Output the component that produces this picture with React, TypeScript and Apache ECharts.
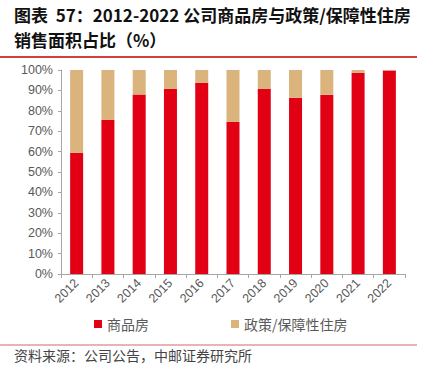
import React, { useEffect, useRef } from "react";
import * as echarts from "echarts";

const years = ["2012", "2013", "2014", "2015", "2016", "2017", "2018", "2019", "2020", "2021", "2022"];
const commercial = [59.4, 75.5, 88.0, 90.7, 93.7, 74.5, 90.7, 86.4, 87.8, 98.7, 99.8];
const affordable = [40.6, 24.5, 12.0, 9.3, 6.3, 25.5, 9.3, 13.6, 12.2, 1.3, 0.2];
const seriesNames = ["商品房", "政策/保障性住房"];
const titleLine1 = "图表  57：2012-2022 公司商品房与政策/保障性住房";
const titleLine2 = "销售面积占比（%）";
const sourceText = "资料来源：公司公告，中邮证券研究所";

export default function App() {
  const ref = useRef<HTMLDivElement>(null);
  useEffect(() => {
    if (!ref.current) return;
    const chart = echarts.init(ref.current, null, { renderer: "svg" });
    const font = "'Noto Sans CJK SC', 'Noto Sans', sans-serif";
    const latin = "'Liberation Sans', Arial, sans-serif";
    chart.setOption({
      animation: false,
      textStyle: { fontFamily: font },
      grid: { left: 61, right: 19, top: 70, bottom: 91, containLabel: false },
      legend: {
        data: seriesNames,
        left: 94,
        top: 317,
        padding: 0,
        icon: "rect",
        itemWidth: 8,
        itemHeight: 8,
        itemGap: 82,
        textStyle: { fontSize: 14, color: "#595959", fontFamily: font },
      },
      xAxis: {
        type: "category",
        data: years,
        axisLine: { lineStyle: { color: "#a6a6a6" } },
        axisTick: { show: true, length: 4, lineStyle: { color: "#a6a6a6" } },
        axisLabel: { rotate: 45, fontSize: 12.5, color: "#595959", margin: 7, fontFamily: latin },
      },
      yAxis: {
        type: "value",
        min: 0,
        max: 100,
        interval: 10,
        axisLine: { show: true, lineStyle: { color: "#a6a6a6" } },
        axisTick: { show: true, length: 3, lineStyle: { color: "#a6a6a6" } },
        splitLine: { show: false },
        axisLabel: { formatter: "{value}%", fontSize: 12.5, color: "#595959", margin: 8, fontFamily: latin },
      },
      series: [
        {
          name: seriesNames[0],
          type: "bar",
          stack: "total",
          barWidth: 13,
          data: commercial,
          itemStyle: { color: "#E10014" },
        },
        {
          name: seriesNames[1],
          type: "bar",
          stack: "total",
          barWidth: 13,
          data: affordable,
          itemStyle: { color: "#DAB37D" },
        },
      ],
      graphic: [
        {
          type: "text",
          left: 14,
          top: 6,
          style: { text: titleLine1, fontSize: 17, fontWeight: "bold", fill: "#111", fontFamily: font },
        },
        {
          type: "text",
          left: 14,
          top: 31,
          style: { text: titleLine2, fontSize: 17, fontWeight: "bold", fill: "#111", fontFamily: font },
        },
        {
          type: "line",
          shape: { x1: 0, y1: 57, x2: 417, y2: 57 },
          style: { stroke: "#C00000", lineWidth: 1.5 },
        },
        {
          type: "line",
          shape: { x1: 0, y1: 345, x2: 417, y2: 345 },
          style: { stroke: "#E39A9A", lineWidth: 1.5 },
        },
        {
          type: "text",
          left: 14,
          top: 348,
          style: { text: sourceText, fontSize: 14, fill: "#444", fontFamily: font },
        },
      ],
    });
    return () => chart.dispose();
  }, []);
  return <div ref={ref} style={{ width: 424, height: 365, position: "absolute", left: 0, top: 0 }} />;
}
